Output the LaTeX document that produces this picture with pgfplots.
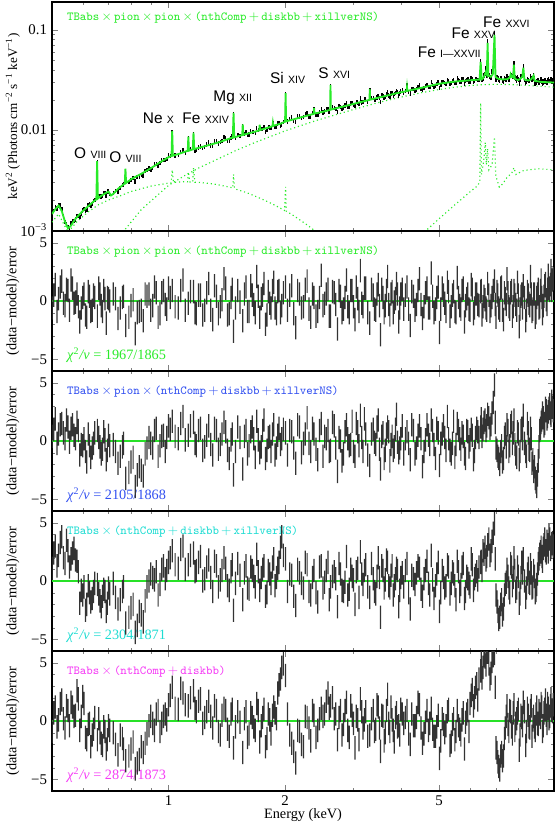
\documentclass[border=0pt]{standalone}
\usepackage{fontspec}
\setmainfont{Liberation Serif}
\newfontfamily\hv{Liberation Sans}
\usepackage{pgfplots}
\usepackage{pgfplotstable}
\pgfplotsset{compat=1.18}

\definecolor{mgreen}{RGB}{40,235,40}
\definecolor{zgreen}{RGB}{40,225,40}
\definecolor{mblue}{RGB}{50,80,240}
\definecolor{mcyan}{RGB}{30,220,210}
\definecolor{mmag}{RGB}{245,60,245}

\pgfplotstableread{
E F r1 r2 r3 r4
0.50 0.00142 -0.6 0.4 1.1 -0.9
0.505 0.00155 0.5 1.0 2.4 0.7
0.51 0.00170 1.4 1.9 3.0 1.2
0.515 0.00165 -0.9 -0.2 1.3 -0.5
0.52 0.00177 0.2 0.6 2.2 0.1
0.525 0.00176 1.2 1.4 3.3 1.5
0.53 0.00164 1.7 1.5 3.8 1.8
0.535 0.00139 -0.2 0.7 2.0 0.2
0.54 0.00120 -0.4 0.2 1.5 -0.6
0.545 0.00116 1.0 1.8 3.5 1.3
0.55 0.00107 0.9 1.2 2.6 0.9
0.555 0.00104 -0.8 -0.1 1.2 -0.4
0.56 0.00118 1.8 1.1 1.9 1.6
0.565 0.00122 1.1 1.4 2.4 1.2
0.57 0.00123 -0.2 0.5 2.8 0.4
0.575 0.00128 -0.1 0.2 1.8 0.5
0.58 0.00138 0.6 1.6 1.7 2.6
0.585 0.00138 -0.5 0.9 0.8 1.9
0.59 0.00136 -1.8 -1.2 -1.9 -0.8
0.595 0.00147 -0.6 -0.3 -0.8 0.4
0.60 0.00157 0.3 -0.4 -1.2 2.1
0.605 0.00163 0.6 0.2 -0.5 1.5
0.61 0.00157 -1.2 -0.9 -2.5 -1.4
0.615 0.00160 -1.4 -1.8 -2.0 -1.6
0.62 0.00178 0.8 0.6 -0.4 -0.3
0.625 0.00181 0.4 -0.4 -1.0 -0.2
0.63 0.00177 -0.9 -1.4 -1.8 -2.2
0.635 0.00183 -0.8 -0.6 -1.5 -1.2
0.64 0.00196 0.5 -0.2 -0.9 -0.7
0.645 0.00201 0.3 0.7 -0.2 0.3
0.655 0.00475 -1.3 0.9 -0.3 -1.6
0.66 0.00218 1.1 0.3 -1.1 0.2
0.665 0.00219 0.6 -0.5 -1.7 -1.0
0.67 0.00217 -0.4 -1.1 -2.2 -1.9
0.675 0.00218 -0.9 -0.7 -1.3 -2.1
0.68 0.00236 0.9 0.8 -0.7 -0.5
0.685 0.00236 0.2 0.1 -0.9 -0.9
0.69 0.00222 -1.9 -1.6 -2.6 -2.4
0.695 0.00243 0.3 -0.8 -1.9 -1.6
0.70 0.00244 0.2 0.5 -0.6 -0.4
0.705 0.00230 0.0 -0.4 -1.1 -0.8
0.72 0.00235 0.6 -0.3 -0.2 -1.0
0.73 0.00247 0.2 -0.9 -1.4 -2.0
0.74 0.00244 -1.5 -1.9 -2.4 -2.9
0.75 0.00265 -0.6 -1.3 -1.6 -1.2
0.76 0.00283 0.3 -0.5 -0.9 -1.5
0.765 0.00287 0.4 -0.2 -0.5 -2.4
0.775 0.00390 -2.1 -3.2 -3.6 -3.4
0.79 0.00302 -1.4 -2.7 -3.1 -3.0
0.80 0.00318 -0.4 -1.8 -2.3 -2.4
0.81 0.00330 0.1 -1.4 -2.0 -1.8
0.82 0.00306 -2.8 -3.9 -4.4 -4.1
0.83 0.00338 -1.0 -2.9 -3.8 -3.6
0.84 0.00345 -0.9 -2.2 -2.6 -3.3
0.85 0.00355 -0.8 -2.5 -2.9 -2.2
0.86 0.00352 -1.7 -3.0 -3.5 -2.7
0.87 0.00392 0.6 -1.1 -1.7 -1.9
0.88 0.00398 0.4 -0.6 -0.5 -1.1
0.89 0.00413 0.6 0.3 0.0 -0.4
0.90 0.00403 -0.8 -0.2 0.6 0.4
0.91 0.00421 -0.4 -0.6 0.3 -0.2
0.92 0.00456 1.2 0.9 0.1 -0.8
0.93 0.00461 0.7 1.1 0.8 0.6
0.94 0.00437 -1.4 -1.3 -1.2 0.9
0.95 0.00466 -1.1 -0.4 -0.3 -0.9
0.96 0.00497 0.7 0.4 1.0 -0.2
0.97 0.00505 0.9 0.5 1.3 0.4
0.98 0.00505 -0.3 -0.9 0.2 0.6
0.99 0.00516 -0.7 0.3 0.9 0.1
1.00 0.00556 1.1 1.3 1.6 1.4
1.01 0.00548 0.3 1.0 2.0 2.2
1.022 0.0095 0.9 1.7 2.6 2.9
1.04 0.00557 -0.5 0.4 1.4 1.1
1.06 0.00563 -0.6 0.2 1.1 1.0
1.075 0.00603 0.9 1.5 2.7 2.8
1.09 0.00636 1.8 2.1 3.0 2.4
1.105 0.00594 -0.8 0.1 1.0 1.4
1.125 0.0083 -0.2 0.5 1.4 1.3
1.14 0.00648 0.8 1.3 2.2 2.0
1.16 0.0091 0.8 1.6 2.4 2.6
1.17 0.00625 -1.0 -0.2 0.8 1.1
1.18 0.00630 -1.1 -0.4 0.9 0.8
1.195 0.00672 0.5 0.9 1.6 1.7
1.21 0.00687 0.5 1.1 2.1 1.9
1.225 0.00661 -1.2 -0.8 0.0 -0.2
1.24 0.00676 -0.8 -0.5 0.2 0.3
1.255 0.00716 0.7 0.5 1.2 0.8
1.27 0.00753 1.5 1.3 1.8 1.7
1.285 0.00700 -0.8 -0.3 0.3 0.4
1.30 0.00694 -1.6 -1.2 -0.9 -0.6
1.315 0.00768 1.3 1.1 1.7 1.3
1.33 0.00766 0.4 0.9 1.3 0.9
1.345 0.00732 -1.1 -0.7 -0.5 -0.9
1.36 0.00761 -0.5 -0.3 0.1 -1.2
1.375 0.00780 0.1 0.6 0.9 0.5
1.39 0.00848 1.9 1.6 2.0 1.1
1.405 0.00825 1.1 0.8 1.1 0.9
1.42 0.00781 -1.2 -0.8 -0.4 -0.7
1.435 0.00790 -1.1 -1.5 -0.8 -1.3
1.45 0.00839 0.3 0.1 0.8 0.6
1.46 0.00860 1.0 0.6 1.4 1.0
1.472 0.0143 -2.6 -2.9 -2.5 -2.3
1.49 0.00835 -0.6 -0.9 -0.2 -0.5
1.51 0.00887 0.9 1.2 1.5 0.8
1.53 0.00872 -0.1 0.3 0.5 -0.1
1.555 0.0109 -1.7 -2.4 -1.6 -2.7
1.57 0.00919 0.6 0.4 0.7 0.2
1.585 0.00943 1.2 0.9 1.3 0.8
1.60 0.00891 -0.9 -1.1 -0.6 -1.4
1.615 0.00902 -0.9 -0.4 -0.7 -1.1
1.63 0.00983 1.3 0.8 1.2 0.7
1.645 0.00961 0.5 1.2 0.9 0.3
1.66 0.00950 -0.3 0.2 0.4 -0.5
1.675 0.00935 -1.0 -1.4 -0.5 -0.8
1.69 0.0105 2.1 1.7 2.3 1.5
1.705 0.00999 0.4 0.1 0.8 0.9
1.72 0.0108 -1.4 -1.0 -0.8 -1.8
1.735 0.0102 0.2 -0.5 0.3 -0.4
1.75 0.0103 0.5 0.9 1.0 0.3
1.765 0.0108 1.5 1.8 1.3 1.0
1.78 0.0096 -2.0 -1.5 -1.3 -2.2
1.795 0.0100 -1.2 -0.8 -1.0 -1.5
1.81 0.0108 0.8 0.3 0.9 0.6
1.825 0.0106 -0.2 0.4 0.6 0.1
1.84 0.0105 -0.6 -0.9 -0.2 -1.1
1.855 0.0112 0.9 0.6 1.2 0.5
1.87 0.0116 1.6 1.4 1.9 1.2
1.885 0.0108 -0.6 -1.2 -0.4 0.7
1.90 0.0107 -1.1 -0.6 0.3 0.2
1.915 0.0116 0.8 0.5 1.1 2.4
1.93 0.0117 0.9 1.1 1.6 3.1
1.945 0.0111 -1.0 -0.3 2.9 3.6
1.96 0.0114 -0.4 0.2 3.8 4.6
1.98 0.0121 0.7 1.0 2.2 4.9
2.006 0.0228 1.2 0.7 1.9 3.9
2.03 0.0122 -0.8 -1.2 -0.9 0.6
2.055 0.0129 0.5 0.9 0.6 -1.2
2.08 0.0134 1.3 0.8 0.5 -1.9
2.105 0.0124 -1.1 -0.6 -1.3 -2.6
2.13 0.0120 -2.3 -1.9 -2.1 -3.6
2.155 0.0137 0.9 1.4 1.0 -0.8
2.18 0.0137 0.6 1.2 0.7 -0.9
2.205 0.0132 -0.6 -1.0 -0.2 -2.0
2.23 0.0135 -0.5 -0.2 -0.6 -2.2
2.255 0.0143 1.0 0.6 1.6 0.4
2.28 0.0148 1.7 2.0 1.4 0.3
2.305 0.0137 -0.7 -0.2 -0.9 -0.6
2.33 0.0135 -1.4 -0.9 -1.2 -1.7
2.355 0.0148 0.6 1.1 0.3 0.9
2.376 0.0162 0.3 0.6 0.9 0.5
2.405 0.0141 -1.3 -0.7 -1.0 -1.4
2.43 0.0143 -0.9 -1.6 -1.8 -0.8
2.455 0.0152 0.3 0.9 1.2 0.2
2.48 0.0163 2.2 1.5 1.3 1.1
2.505 0.0150 -0.4 -1.3 -0.6 0.4
2.53 0.0153 -0.2 0.4 -0.1 0.6
2.555 0.0161 0.6 0.2 0.9 1.7
2.58 0.0162 1.0 0.9 1.6 2.4
2.60 0.0152 -1.3 -0.9 -1.6 1.1
2.62 0.0275 -1.3 -0.8 -0.5 1.3
2.65 0.0169 0.8 1.6 0.4 2.0
2.68 0.0167 0.7 1.3 0.8 0.2
2.705 0.0163 -0.3 -0.6 0.2 0.6
2.73 0.0152 -2.4 -2.6 -2.2 -1.6
2.755 0.0174 0.9 0.3 1.5 0.3
2.78 0.0171 0.4 0.0 0.6 0.9
2.805 0.0164 -1.0 -1.7 -0.8 -1.2
2.83 0.0168 -0.7 -1.1 -0.9 -0.3
2.855 0.0176 0.3 0.8 -0.1 0.9
2.88 0.0186 1.8 1.4 2.1 1.6
2.905 0.0171 -0.5 0.2 -1.2 -0.8
2.93 0.0172 -1.0 -0.4 -0.7 -1.4
2.955 0.0184 0.9 -0.3 1.0 1.3
2.98 0.0187 0.9 1.7 0.4 0.5
3.005 0.0177 -0.5 -0.9 0.1 -0.2
3.03 0.0174 -1.6 -1.3 -2.0 -2.3
3.055 0.0192 1.2 1.5 0.8 0.4
3.08 0.0188 0.2 0.8 1.1 0.1
3.105 0.0182 -0.9 -0.4 -1.4 -1.6
3.13 0.0207 2.6 2.2 2.5 1.9
3.155 0.0188 -0.2 0.3 0.6 0.8
3.18 0.0190 -0.5 -0.9 -0.3 -0.6
3.205 0.0202 1.1 1.9 0.9 0.1
3.23 0.0204 1.1 0.6 1.4 0.8
3.27 0.0191 -1.0 -1.2 -0.5 -1.3
3.31 0.0248 -1.9 -2.1 -1.4 -1.2
3.345 0.0209 1.0 0.6 1.5 0.2
3.38 0.0208 0.5 1.0 0.2 0.9
3.405 0.0200 -0.7 -0.1 -0.9 -0.9
3.43 0.0201 -0.8 -0.3 -1.1 -0.7
3.455 0.0212 0.6 1.2 0.4 1.4
3.48 0.0220 1.4 1.8 2.0 1.2
3.505 0.0208 -0.4 -0.7 0.3 -0.6
3.53 0.0191 -2.9 -2.4 -3.1 -2.6
3.555 0.0222 1.0 0.4 1.3 0.5
3.58 0.0218 0.3 0.7 0.9 0.4
3.605 0.0209 -1.0 -1.5 -0.6 -1.7
3.63 0.0215 -0.4 -0.8 0.1 -1.0
3.655 0.0227 0.9 0.6 1.8 0.9
3.68 0.0237 2.1 1.2 1.6 2.3
3.705 0.0221 -0.3 0.8 -0.4 -0.2
3.73 0.0215 -1.2 -1.7 -0.6 -0.9
3.755 0.0231 0.6 -0.3 0.5 1.2
3.78 0.0233 0.8 0.4 1.3 0.1
3.805 0.0220 -1.0 -0.8 -1.2 -0.8
3.83 0.0229 -0.1 -0.5 -0.4 -1.8
3.855 0.0235 0.2 1.0 0.2 0.3
3.88 0.0245 1.5 2.3 1.1 0.7
3.905 0.0239 0.6 -0.1 0.9 -0.5
3.93 0.0220 -1.8 -1.0 -2.2 -0.4
3.955 0.0232 -0.6 -0.6 -0.8 -1.2
3.98 0.0243 0.6 0.2 0.3 1.0
4.015 0.0249 1.0 1.3 0.7 0.6
4.05 0.0236 -0.7 -1.1 -0.5 -0.2
4.09 0.0247 0.5 0.2 0.9 0.3
4.13 0.0279 1.2 0.8 1.5 0.9
4.17 0.0241 -0.7 -0.2 -1.0 -1.1
4.21 0.0232 -2.1 -1.6 -2.4 -2.0
4.25 0.0259 0.8 1.4 0.5 0.6
4.29 0.0258 0.4 0.9 0.2 -0.4
4.33 0.0249 -0.8 -1.1 -0.3 -0.4
4.37 0.0255 -0.3 -0.6 0.7 0.3
4.41 0.0268 0.9 0.5 1.3 1.6
4.45 0.0279 1.9 1.3 1.1 1.4
4.49 0.0258 -0.3 0.2 -0.7 -0.6
4.53 0.0252 -1.5 -2.2 -1.3 -1.9
4.57 0.0263 -0.5 -0.9 0.2 -1.1
4.61 0.0277 0.7 0.1 0.9 -0.1
4.65 0.0283 1.1 1.4 1.7 0.9
4.69 0.0268 -0.6 0.5 -0.2 -0.8
4.73 0.0270 -0.6 -0.3 -1.2 -0.2
4.77 0.0301 2.4 1.8 2.2 1.1
4.81 0.0284 0.4 0.9 0.1 -0.7
4.85 0.0272 -1.0 -0.3 -1.5 -1.3
4.89 0.0277 -0.7 -1.5 -0.4 -1.3
4.93 0.0289 0.3 1.1 0.6 -0.5
4.97 0.0300 1.2 0.7 1.6 0.5
5.01 0.0263 -2.7 -2.1 -2.6 -3.2
5.05 0.0284 -0.7 -0.2 -1.0 -1.7
5.09 0.0304 1.1 0.6 0.9 0.2
5.13 0.0301 0.5 1.3 0.3 -0.3
5.17 0.0294 -0.2 0.3 -0.6 -1.0
5.21 0.0289 -0.9 -0.8 -0.4 -0.4
5.25 0.0316 1.6 2.1 1.4 0.8
5.29 0.0308 0.8 0.2 1.2 1.0
5.33 0.0287 -1.3 -0.8 -1.1 -2.1
5.37 0.0297 -0.5 -1.1 -0.2 -1.8
5.41 0.0308 0.5 -0.2 0.8 -0.3
5.45 0.0313 0.8 1.7 0.6 0.2
5.49 0.0295 -0.9 -1.4 -0.4 -1.6
5.53 0.0296 -1.0 -0.3 -1.6 -0.9
5.57 0.0328 2.0 1.5 1.7 0.9
5.61 0.0314 0.3 0.9 0.8 -0.4
5.65 0.0305 -0.4 0.2 -0.9 -0.7
5.69 0.0303 -0.7 -0.7 -0.3 -1.2
5.73 0.0321 0.9 0.7 1.2 0.1
5.77 0.0323 1.1 0.4 1.5 0.7
5.81 0.0292 -1.8 -1.1 -1.5 -2.4
5.85 0.0307 -0.4 -1.5 -0.9 -0.1
5.89 0.0315 0.2 0.9 0.4 0.6
5.93 0.0320 0.6 0.8 0.2 0.9
5.97 0.0306 -0.7 -0.5 -0.2 -0.9
6.01 0.0306 -0.8 0.1 -0.5 1.5
6.05 0.0330 1.4 1.0 1.9 2.2
6.09 0.0326 1.0 0.5 1.4 2.7
6.13 0.0304 -1.1 -1.6 -0.8 1.3
6.17 0.0309 -0.6 -0.9 0.2 2.0
6.21 0.0324 0.6 0.3 0.5 2.9
6.25 0.0324 0.6 1.1 0.8 3.2
6.29 0.0315 -0.3 0.8 0.1 1.8
6.34 0.0315 -0.4 0.3 1.2 3.6
6.40 0.0488 0.8 1.2 1.6 4.3
6.425 0.0341 0.9 1.9 1.7 5.2
6.45 0.0316 -1.2 0.4 0.9 3.7
6.49 0.0324 -0.5 1.0 2.6 4.6
6.53 0.0350 0.4 1.6 2.3 5.6
6.57 0.0362 0.1 1.8 2.9 5.5
6.61 0.0411 -0.6 0.9 1.8 4.8
6.64 0.0350 -0.8 1.3 2.1 5.9
6.67 0.0774 1.5 2.3 3.1 5.9
6.72 0.0356 0.5 2.0 3.6 4.9
6.77 0.0339 -0.9 1.1 2.2 3.6
6.81 0.0335 -0.4 1.4 2.6 4.1
6.85 0.0384 0.3 2.4 3.4 5.1
6.90 0.0412 0.9 3.3 4.1 5.6
6.95 0.0932 1.7 4.8 4.9 5.8
6.98 0.0357 -0.3 1.6 1.9 2.9
7.01 0.0319 -1.4 -0.6 -1.2 -2.3
7.05 0.0339 0.8 -0.8 -1.8 -2.7
7.09 0.0331 0.5 -1.3 -2.6 -3.5
7.13 0.0317 -0.6 -1.5 -3.3 -3.9
7.17 0.0313 -0.8 -2.0 -3.1 -4.2
7.21 0.0333 1.1 -0.9 -2.0 -3.0
7.25 0.0333 1.2 -0.4 -1.6 -2.7
7.29 0.0311 -0.8 -1.8 -2.9 -3.4
7.33 0.0301 -1.6 -1.5 -2.4 -3.0
7.37 0.0328 0.7 0.3 -1.2 -1.5
7.41 0.0320 0.2 0.6 -0.3 -0.6
7.45 0.0317 -0.3 -0.5 -0.1 0.4
7.49 0.0343 1.9 1.4 1.0 1.3
7.53 0.0332 0.7 0.9 0.4 -0.3
7.57 0.0321 -0.5 -0.9 -0.6 -0.9
7.61 0.0325 -0.7 -0.4 -1.0 0.9
7.65 0.0359 0.7 1.3 1.5 0.8
7.69 0.0357 0.9 1.6 1.2 -0.5
7.73 0.0344 -1.3 -0.2 -0.4 -1.1
7.765 0.0344 -0.5 0.7 0.3 0.7
7.80 0.0462 0.9 1.8 2.0 1.4
7.845 0.0336 0.5 -0.3 0.9 -0.8
7.89 0.0327 -0.3 -1.1 -0.9 -0.2
7.93 0.0311 -0.8 -1.4 -0.6 0.2
7.97 0.0336 1.6 0.8 1.2 0.7
8.01 0.0321 0.5 0.6 0.4 1.0
8.05 0.0291 -2.2 -1.6 -1.9 -2.5
8.09 0.0314 -0.7 -0.9 -1.1 -1.2
8.13 0.0345 0.4 0.9 0.3 0.5
8.17 0.0346 0.6 1.1 1.6 0.3
8.21 0.0352 -0.6 0.2 0.7 -0.4
8.25 0.0437 1.3 2.2 1.9 1.6
8.31 0.0319 0.3 -0.2 0.0 0.8
8.37 0.0297 -1.7 -0.9 -1.4 -2.1
8.41 0.0303 -0.8 -1.3 -0.6 -0.9
8.45 0.0321 0.8 1.5 0.6 1.1
8.49 0.0317 0.5 0.7 1.1 0.5
8.53 0.0308 -0.2 -0.7 -0.1 -0.5
8.57 0.0310 -0.4 -0.8 -0.2 -0.6
8.61 0.0344 2.1 1.1 1.4 0.9
8.65 0.0329 0.6 0.2 0.7 1.3
8.69 0.0320 -0.9 -1.9 -0.6 -1.3
8.73 0.0327 -0.7 -1.6 -0.5 0.1
8.77 0.0355 0.6 -2.6 0.9 0.4
8.81 0.0327 0.6 -2.2 0.4 -0.5
8.85 0.0291 -1.4 -3.2 -1.0 -0.8
8.89 0.0296 -1.0 -3.5 -0.8 0.6
8.93 0.0308 0.3 -3.9 -0.3 1.2
8.97 0.0311 0.6 -2.9 0.6 -0.2
9.01 0.0315 1.0 -1.7 1.5 -0.3
9.05 0.0298 -0.6 -0.5 1.9 0.9
9.09 0.0298 -0.5 0.9 2.3 0.6
9.13 0.0313 0.9 1.1 2.5 0.3
9.17 0.0321 1.8 1.6 2.9 1.5
9.21 0.0305 0.3 1.8 2.1 1.2
9.25 0.0289 -1.1 2.4 1.7 -0.9
9.29 0.0297 -0.4 2.0 2.8 -0.4
9.33 0.0305 0.4 1.3 3.1 0.7
9.37 0.0315 1.3 1.5 3.6 1.0
9.41 0.0316 1.5 2.8 2.6 1.8
9.45 0.0301 0.1 2.6 2.4 0.5
9.49 0.0297 -0.3 1.9 3.4 -0.2
9.53 0.0312 1.0 2.1 3.1 1.5
9.57 0.0322 2.2 2.5 2.5 1.1
9.61 0.0310 1.1 2.8 3.9 0.2
9.65 0.0308 0.9 3.1 3.6 0.4
9.69 0.0313 1.4 2.4 2.7 1.3
9.73 0.0325 2.6 2.2 2.9 1.9
9.77 0.0306 0.9 3.4 3.2 0.9
9.81 0.0317 1.8 2.9 3.3 0.8
9.85 0.0315 1.9 2.6 3.0 1.4
}\data

\newcommand{\mdl}{\fontsize{8.6}{10}\ttfamily}
\newcommand{\tms}{$\,\times\,$}
\newcommand{\pls}{$\,+\,$}
\newcommand{\chil}[1]{\fontsize{10}{12}\selectfont\textit{χ}\textsuperscript{2}\textit{/ν} = #1}
\newcommand{\ion}[2]{{\hv\fontsize{10.8}{12}\selectfont #1 {\fontsize{7.4}{9}\selectfont #2}}}

\begin{document}
\begin{tikzpicture}
% ---------------- top panel
\begin{axis}[at={(0,0)}, anchor=north west, scale only axis, width=351.4pt, height=160.3pt,
  xmode=log, ymode=log, xmin=0.5, xmax=9.9, ymin=0.00098, ymax=0.19,
  xtick={1,2,5}, xticklabels={}, minor xtick={0.6,0.7,0.8,0.9,3,4,6,7,8,9},
  ytick={0.001,0.01,0.1}, yticklabels={10\textsuperscript{−3},0.01,0.1},
  minor ytick={0.002,0.003,0.004,0.005,0.006,0.007,0.008,0.009,0.02,0.03,0.04,0.05,0.06,0.07,0.08,0.09},
  tick align=inside, major tick length=4.2pt, minor tick length=2.4pt,
  axis line style={line width=0.8pt},
  tick label style={font=\fontsize{10.4}{12}\selectfont},
  ylabel style={font=\fontsize{9.2}{11}\selectfont, at={(axis description cs:-0.078,0.5)}, anchor=center},
  ylabel={keV\textsuperscript{2} (Photons cm\textsuperscript{−2} s\textsuperscript{−1} keV\textsuperscript{−1})}]
\addplot[mgreen, dotted, line width=0.8pt] coordinates {(0.5,0.0012)(0.52,0.00145)(0.55,0.00095)(0.58,0.00122)(0.62,0.00152)(0.66,0.0018)(0.7,0.002)(0.75,0.0022)(0.8,0.00243)(0.9,0.00275)(1.0,0.00295)(1.015,0.00296)(1.022,0.004)(1.03,0.003)(1.1,0.00305)(1.12,0.00304)(1.125,0.0038)(1.135,0.00303)(1.155,0.00302)(1.16,0.0042)(1.17,0.00301)(1.2,0.003)(1.3,0.0029)(1.4,0.00275)(1.465,0.00264)(1.472,0.0036)(1.48,0.00262)(1.5,0.00255)(1.6,0.00235)(1.7,0.00213)(1.8,0.00193)(1.9,0.00174)(1.995,0.00157)(2.006,0.0027)(2.015,0.00155)(2.1,0.0014)(2.2,0.00124)(2.3,0.0011)(2.4,0.00097)(2.5,0.00086)};
\addplot[mgreen, dotted, line width=0.8pt] coordinates {(0.7,0.0008)(0.77,0.001)(0.85,0.0016)(0.92,0.0021)(1.0,0.0028)(1.1,0.0035)(1.2,0.0042)(1.35,0.0052)(1.5,0.0063)(1.7,0.0077)(2.0,0.0098)(2.4,0.0124)(3.0,0.016)(3.5,0.0189)(4.0,0.0214)(4.5,0.0236)(5.0,0.0254)(5.5,0.0268)(6.0,0.0278)(6.5,0.0284)(7.0,0.0286)(7.5,0.0285)(8.0,0.0282)(8.5,0.0278)(9.0,0.0274)(9.9,0.0268)};
\addplot[mgreen, dotted, line width=0.8pt] coordinates {(4.5,0.0009)(5.0,0.0013)(5.5,0.0018)(6.0,0.0024)(6.3,0.0028)(6.37,0.0031)(6.40,0.0186)(6.43,0.0036)(6.52,0.005)(6.58,0.0075)(6.62,0.0045)(6.67,0.0065)(6.72,0.004)(6.85,0.0045)(6.95,0.0085)(7.0,0.0035)(7.15,0.0027)(7.3,0.0029)(7.5,0.0034)(7.7,0.0037)(7.8,0.0042)(7.9,0.0036)(8.2,0.0039)(8.5,0.004)(9.0,0.0041)(9.9,0.004)};
\addplot[draw=none, mark=none, error bars/y dir=both, error bars/y fixed relative=0.05, error bars/error mark=none, error bars/error bar style={draw=black, line width=1pt}] table[x=E, y=F]{\data};
\addplot[mgreen, line width=1.3pt] coordinates {(0.50,0.00145)(0.51,0.00162)(0.52,0.00176)(0.53,0.00155)(0.54,0.00122)(0.55,0.00104)(0.56,0.00111)(0.57,0.00124)(0.58,0.00135)(0.60,0.00155)(0.62,0.00173)(0.64,0.00193)(0.651,0.00203)(0.654,0.0049)(0.657,0.00207)(0.67,0.0022)(0.69,0.00236)(0.70,0.00242)(0.71,0.00222)(0.72,0.0023)(0.74,0.00258)(0.76,0.0028)(0.771,0.00292)(0.774,0.0041)(0.777,0.00296)(0.80,0.00322)(0.85,0.00365)(0.90,0.00415)(0.95,0.00475)(1.0,0.00535)(1.018,0.0055)(1.022,0.0098)(1.026,0.00555)(1.06,0.00575)(1.10,0.00605)(1.121,0.0062)(1.125,0.0086)(1.129,0.00622)(1.155,0.0064)(1.16,0.0094)(1.165,0.00645)(1.25,0.00695)(1.35,0.00755)(1.45,0.0083)(1.466,0.0084)(1.472,0.0148)(1.478,0.00845)(1.55,0.0089)(1.555,0.0114)(1.56,0.00895)(1.65,0.0095)(1.715,0.0099)(1.72,0.0113)(1.725,0.01)(1.855,0.0109)(1.86,0.0118)(1.865,0.011)(1.95,0.0116)(2.0,0.0121)(2.006,0.0233)(2.012,0.0122)(2.2,0.0134)(2.37,0.0145)(2.376,0.0166)(2.382,0.0146)(2.5,0.0152)(2.615,0.0159)(2.62,0.0282)(2.625,0.016)(2.9,0.0176)(3.1,0.0188)(3.305,0.02)(3.31,0.0257)(3.315,0.0201)(3.6,0.0217)(3.9,0.0234)(4.1,0.0244)(4.12,0.0245)(4.13,0.0268)(4.14,0.0246)(4.5,0.0264)(5.0,0.029)(5.5,0.0305)(6.0,0.0314)(6.36,0.0319)(6.40,0.048)(6.44,0.0322)(6.5,0.033)(6.55,0.035)(6.6,0.038)(6.64,0.036)(6.67,0.074)(6.70,0.035)(6.8,0.034)(6.88,0.036)(6.95,0.089)(6.99,0.034)(7.1,0.0325)(7.3,0.032)(7.5,0.0322)(7.62,0.0335)(7.65,0.036)(7.7,0.034)(7.76,0.0335)(7.80,0.045)(7.84,0.0325)(8.0,0.0315)(8.1,0.0325)(8.2,0.034)(8.25,0.042)(8.3,0.032)(8.5,0.0312)(8.6,0.0318)(8.65,0.0322)(8.77,0.035)(8.82,0.031)(9.2,0.0302)(9.9,0.0298)};
\node[text=mgreen, anchor=west, font=\mdl] at (axis description cs:0.02,0.934) {TBabs\tms pion\tms pion\tms (nthComp\pls diskbb\pls xillverNS)};
\node at (axis cs:0.628,0.0059) {\ion{O}{VIII}};
\node at (axis cs:0.774,0.0054) {\ion{O}{VIII}};
\node at (axis cs:0.942,0.0132) {\ion{Ne}{X}};
\node at (axis cs:1.247,0.0132) {\ion{Fe}{XXIV}};
\node at (axis cs:1.465,0.0209) {\ion{Mg}{XII}};
\node at (axis cs:2.03,0.0331) {\ion{Si}{XIV}};
\node at (axis cs:2.68,0.0372) {\ion{S}{XVI}};
\node at (axis cs:5.31,0.0603) {\ion{Fe}{I—XXVII}};
\node at (axis cs:6.13,0.0933) {\ion{Fe}{XXV}};
\node at (axis cs:7.46,0.120) {\ion{Fe}{XXVI}};
\end{axis}
% residual panels: the y axis is offset by +10 (tick 10 is labelled 0) so that every stacked bar base is positive
% ---------------- residual 1
\begin{axis}[at={(0,-160.3pt)}, anchor=north west, scale only axis, width=351.4pt, height=98pt,
  xmode=log, xmin=0.5, xmax=9.9, ymin=4, ymax=16, ybar stacked, bar width=0.85pt,
  xtick={1,2,5}, xticklabels={}, minor xtick={0.6,0.7,0.8,0.9,3,4,6,7,8,9},
  ytick={5,10,15}, yticklabels={−5,0,5}, minor ytick={6,7,8,9,11,12,13,14},
  tick align=inside, major tick length=4.2pt, minor tick length=2.4pt,
  axis line style={line width=0.8pt},
  tick label style={font=\fontsize{10.4}{12}\selectfont},
  ylabel style={font=\fontsize{10}{12}\selectfont, at={(axis description cs:-0.078,0.5)}, anchor=center},
  ylabel={(data−model)/error}]
\addplot[draw=none, fill=none] table[x=E, y expr=\thisrow{r1}+9]{\data};
\addplot[draw=none, fill=black!80] table[x=E, y expr=2]{\data};
\draw[zgreen, line width=0.9pt] (axis cs:0.5,10) -- (axis cs:9.9,10);
\node[text=mgreen, anchor=west, font=\mdl] at (axis description cs:0.02,0.85) {TBabs\tms pion\tms pion\tms (nthComp\pls diskbb\pls xillverNS)};
\node[text=mgreen, anchor=west] at (axis description cs:0.02,0.115) {\chil{1967/1865}};
\end{axis}
% ---------------- residual 2
\begin{axis}[at={(0,-258.3pt)}, anchor=north west, scale only axis, width=351.4pt, height=98pt,
  xmode=log, xmin=0.5, xmax=9.9, ymin=4, ymax=16, ybar stacked, bar width=0.85pt,
  xtick={1,2,5}, xticklabels={}, minor xtick={0.6,0.7,0.8,0.9,3,4,6,7,8,9},
  ytick={5,10,15}, yticklabels={−5,0,5}, minor ytick={6,7,8,9,11,12,13,14},
  tick align=inside, major tick length=4.2pt, minor tick length=2.4pt,
  axis line style={line width=0.8pt},
  tick label style={font=\fontsize{10.4}{12}\selectfont},
  ylabel style={font=\fontsize{10}{12}\selectfont, at={(axis description cs:-0.078,0.5)}, anchor=center},
  ylabel={(data−model)/error}]
\addplot[draw=none, fill=none] table[x=E, y expr=\thisrow{r2}+9]{\data};
\addplot[draw=none, fill=black!80] table[x=E, y expr=2]{\data};
\draw[zgreen, line width=0.9pt] (axis cs:0.5,10) -- (axis cs:9.9,10);
\node[text=mblue, anchor=west, font=\mdl] at (axis description cs:0.02,0.85) {TBabs\tms pion\tms (nthComp\pls diskbb\pls xillverNS)};
\node[text=mblue, anchor=west] at (axis description cs:0.02,0.115) {\chil{2105/1868}};
\end{axis}
% ---------------- residual 3
\begin{axis}[at={(0,-356.3pt)}, anchor=north west, scale only axis, width=351.4pt, height=98pt,
  xmode=log, xmin=0.5, xmax=9.9, ymin=4, ymax=16, ybar stacked, bar width=0.85pt,
  xtick={1,2,5}, xticklabels={}, minor xtick={0.6,0.7,0.8,0.9,3,4,6,7,8,9},
  ytick={5,10,15}, yticklabels={−5,0,5}, minor ytick={6,7,8,9,11,12,13,14},
  tick align=inside, major tick length=4.2pt, minor tick length=2.4pt,
  axis line style={line width=0.8pt},
  tick label style={font=\fontsize{10.4}{12}\selectfont},
  ylabel style={font=\fontsize{10}{12}\selectfont, at={(axis description cs:-0.078,0.5)}, anchor=center},
  ylabel={(data−model)/error}]
\addplot[draw=none, fill=none] table[x=E, y expr=\thisrow{r3}+9]{\data};
\addplot[draw=none, fill=black!80] table[x=E, y expr=2]{\data};
\draw[zgreen, line width=0.9pt] (axis cs:0.5,10) -- (axis cs:9.9,10);
\node[text=mcyan, anchor=west, font=\mdl] at (axis description cs:0.02,0.85) {TBabs\tms (nthComp\pls diskbb\pls xillverNS)};
\node[text=mcyan, anchor=west] at (axis description cs:0.02,0.115) {\chil{2304/1871}};
\end{axis}
% ---------------- residual 4
\begin{axis}[at={(0,-454.3pt)}, anchor=north west, scale only axis, width=351.4pt, height=98pt,
  xmode=log, xmin=0.5, xmax=9.9, ymin=4, ymax=16, ybar stacked, bar width=0.85pt,
  xtick={1,2,5}, xticklabels={1,2,5}, minor xtick={0.6,0.7,0.8,0.9,3,4,6,7,8,9},
  ytick={5,10,15}, yticklabels={−5,0,5}, minor ytick={6,7,8,9,11,12,13,14},
  tick align=inside, major tick length=4.2pt, minor tick length=2.4pt,
  axis line style={line width=0.8pt},
  tick label style={font=\fontsize{10.4}{12}\selectfont},
  ylabel style={font=\fontsize{10}{12}\selectfont, at={(axis description cs:-0.078,0.5)}, anchor=center},
  ylabel={(data−model)/error},
  xlabel style={font=\fontsize{10}{12}\selectfont, at={(axis description cs:0.5,0)}, anchor=center, yshift=-17pt},
  xlabel={Energy (keV)}]
\addplot[draw=none, fill=none] table[x=E, y expr=\thisrow{r4}+9]{\data};
\addplot[draw=none, fill=black!80] table[x=E, y expr=2]{\data};
\draw[zgreen, line width=0.9pt] (axis cs:0.5,10) -- (axis cs:9.9,10);
\node[text=mmag, anchor=west, font=\mdl] at (axis description cs:0.02,0.85) {TBabs\tms (nthComp\pls diskbb)};
\node[text=mmag, anchor=west] at (axis description cs:0.02,0.115) {\chil{2874/1873}};
\end{axis}
\pgfresetboundingbox
\useasboundingbox (-36.4pt,1.4pt) rectangle (352.1pt,-578.2pt);
\end{tikzpicture}
\end{document}
